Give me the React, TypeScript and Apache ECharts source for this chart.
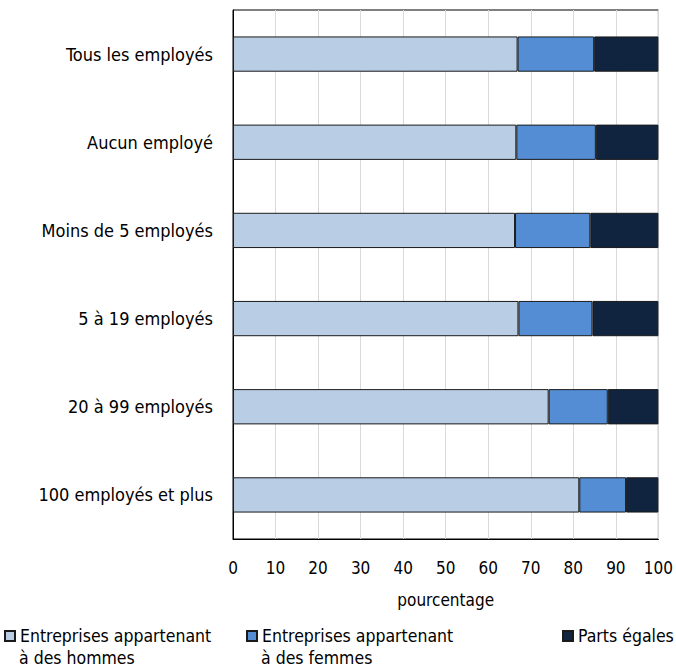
import React, { useEffect, useRef } from "react";
import * as echarts from "echarts";

const categories = [
  "Tous les employés",
  "Aucun employé",
  "Moins de 5 employés",
  "5 à 19 employés",
  "20 à 99 employés",
  "100 employés et plus",
];
const seriesNames = [
  "Entreprises appartenant\nà des hommes",
  "Entreprises appartenant\nà des femmes",
  "Parts égales",
];
const hommes = [66.9, 66.6, 66.3, 67.1, 74.2, 81.4];
const femmes = [18.0, 18.7, 17.7, 17.4, 13.9, 11.0];
const egales = [15.1, 14.7, 16.0, 15.5, 11.9, 7.6];
const xTicks = [0, 10, 20, 30, 40, 50, 60, 70, 80, 90, 100];

const colors = ["#b9cde4", "#548dd4", "#10243f"];
const FONT = "'Liberation Sans Narrow', 'DejaVu Sans Condensed', sans-serif";

export default function App() {
  const ref = useRef<HTMLDivElement>(null);
  useEffect(() => {
    if (!ref.current) return;
    const chart = echarts.init(ref.current, null, { renderer: "svg" });
    const values = [hommes, femmes, egales];
    const legendLefts = [4, 246, 562];
    const iconW = 10;
    const textGap = 5;
    const legendTop = 627;
    chart.setOption({
      animation: false,
      textStyle: { fontFamily: FONT, color: "#000" },
      grid: {
        left: 233,
        right: 16,
        top: 10,
        bottom: 129,
        show: true,
        borderColor: "#000",
        borderWidth: 1,
      },
      xAxis: {
        type: "value",
        min: xTicks[0],
        max: xTicks[xTicks.length - 1],
        interval: 10,
        name: "pourcentage",
        nameLocation: "middle",
        nameGap: 52,
        nameTextStyle: { fontSize: 17, color: "#000", fontFamily: FONT },
        axisLine: { show: true, lineStyle: { color: "#000" } },
        axisTick: { show: false },
        axisLabel: { fontSize: 17, color: "#000", margin: 20, fontFamily: FONT },
        splitLine: { show: true, lineStyle: { color: "#d9d9d9", width: 1 } },
      },
      yAxis: {
        type: "category",
        data: categories,
        inverse: true,
        axisLine: { show: true, lineStyle: { color: "#000" } },
        axisTick: { show: false },
        axisLabel: { fontSize: 18, color: "#000", margin: 20, fontFamily: FONT },
        splitLine: { show: false },
      },
      legend: seriesNames.map((n, i) => ({
        data: [n],
        left: legendLefts[i],
        top: legendTop,
        icon: "rect",
        itemWidth: iconW,
        itemHeight: iconW,
        padding: 0,
        selectedMode: false,
        formatter: (name: string) => name.split("\n")[0],
        textStyle: { fontSize: 17.5, color: "#000", fontFamily: FONT },
      })),
      graphic: seriesNames
        .map((n, i) => ({ parts: n.split("\n"), i }))
        .filter((o) => o.parts.length > 1)
        .map((o) => ({
          type: "text",
          left: legendLefts[o.i] + iconW + textGap,
          top: legendTop + 22,
          style: {
            text: o.parts[1],
            font: `17.5px ${FONT}`,
            fill: "#000",
          },
        })),
      series: seriesNames.map((n, i) => ({
        name: n,
        type: "bar",
        stack: "total",
        data: values[i],
        barCategoryGap: "60%",
        itemStyle: { color: colors[i], borderColor: "#1a1a1a", borderWidth: 1 },
      })),
    });
    return () => chart.dispose();
  }, []);
  return (
    <div
      ref={ref}
      style={{ position: "absolute", left: 0, top: 0, width: 676, height: 668 }}
    />
  );
}
